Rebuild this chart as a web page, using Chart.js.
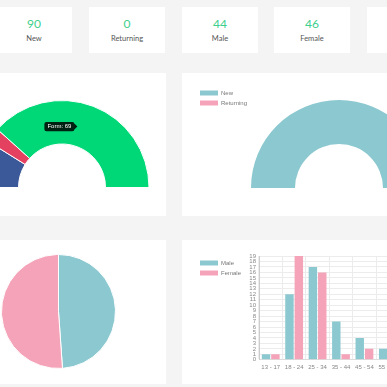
<!DOCTYPE html>
<html>
<head>
<meta charset="utf-8">
<script src="https://cdn.jsdelivr.net/npm/chart.js@4.4.1/dist/chart.umd.min.js"></script>
<style>
  html, body { margin: 0; padding: 0; }
  body { width: 387px; height: 387px; overflow: hidden; position: relative; background: #f4f4f4; font-family: Lato, "Liberation Sans", Arial, sans-serif; }
  .card { position: absolute; background: #fff; }
  .stat { top: 7px; width: 76px; height: 46px; text-align: center; }
  .stat .num { position: absolute; left: 0; right: 0; top: 10px; font-size: 12px; color: #3ecf8e; line-height: 14px; }
  .stat .lbl { position: absolute; left: 0; right: 0; top: 27px; font-size: 7.5px; color: #555; line-height: 10px; }
  canvas { position: absolute; }
</style>
</head>
<body>
<div class="card stat" style="left:-4px"><div class="num" id="s0"></div><div class="lbl">New</div></div>
<div class="card stat" style="left:89px"><div class="num" id="s1"></div><div class="lbl">Returning</div></div>
<div class="card stat" style="left:182px"><div class="num" id="s2"></div><div class="lbl">Male</div></div>
<div class="card stat" style="left:274px"><div class="num" id="s3"></div><div class="lbl">Female</div></div>
<div class="card stat" style="left:367px"><div class="num"></div><div class="lbl"></div></div>

<div class="card" style="left:-10px; top:73px; width:176px; height:143px"></div>
<div class="card" style="left:182px; top:73px; width:220px; height:143px"></div>
<div class="card" style="left:-10px; top:240px; width:176px; height:144px"></div>
<div class="card" style="left:182px; top:240px; width:220px; height:144px"></div>

<canvas id="sourceChart" width="176" height="88" style="left:-26px; top:100px"></canvas>
<canvas id="visitorChart" width="231" height="116" style="left:196px; top:86px"></canvas>
<canvas id="genderChart" width="115" height="115" style="left:1px; top:254px"></canvas>
<canvas id="ageChart" width="227" height="125" style="left:196px; top:250px"></canvas>

<script>
const sourceLabels = ["Facebook", "Instagram", "Form"];
const sourceValues = [16, 5, 69];
const sourceColors = ["#3b5998", "#e4405f", "#00d878"];

const visitorLabels = ["New", "Returning"];
const visitorValues = [90, 0];

const genderLabels = ["Male", "Female"];
const genderValues = [44, 46];

const ageLabels = ["13 - 17", "18 - 24", "25 - 34", "35 - 44", "45 - 54", "55 - 64", "65+"];
const maleByAge = [1, 12, 17, 7, 4, 2, 1];
const femaleByAge = [1, 19, 16, 1, 2, 4, 3];

const teal = "#8cc8d0";
const pink = "#f4a3b8";
const fontFamily = "'Liberation Sans', Arial, sans-serif";

Chart.defaults.font.family = fontFamily;
Chart.defaults.animation = false;
Chart.defaults.responsive = false;

document.getElementById("s0").innerText = visitorValues[0];
document.getElementById("s1").innerText = visitorValues[1];
document.getElementById("s2").innerText = genderValues[0];
document.getElementById("s3").innerText = genderValues[1];

// legend on the left with a fixed width so the chart area lands where it should
const legendWidth = {
    id: "legendWidth",
    beforeLayout(chart, args, opts) {
        const legend = chart.legend;
        if (!legend || legend._fixedWidth) return;
        const fit = legend.fit;
        legend.fit = function () {
            fit.call(this);
            this.width = opts.width;
        };
        legend._fixedWidth = true;
    }
};

const legendLabels = { boxWidth: 18, boxHeight: 5, padding: 4, color: "#777", font: { size: 6 } };

const sourceChart = new Chart(document.getElementById("sourceChart"), {
    type: "doughnut",
    data: {
        labels: sourceLabels,
        datasets: [{ data: sourceValues, backgroundColor: sourceColors, borderColor: "#fff", borderWidth: 1 }]
    },
    options: {
        rotation: -90,
        circumference: 180,
        cutout: "50%",
        plugins: {
            legend: { display: false },
            tooltip: {
                displayColors: false,
                xAlign: "right",
                yAlign: "center",
                caretSize: 3,
                caretPadding: 8,
                cornerRadius: 2,
                padding: { x: 3, y: 1 },
                backgroundColor: "rgba(0,0,0,0.85)",
                bodyFont: { size: 6 },
                callbacks: {
                    title: () => "",
                    label: ctx => ctx.label + ": " + ctx.parsed
                }
            }
        }
    }
});
sourceChart.tooltip.setActiveElements([{ datasetIndex: 0, index: 2 }], { x: 0, y: 0 });
sourceChart.update();

new Chart(document.getElementById("visitorChart"), {
    type: "doughnut",
    data: {
        labels: visitorLabels,
        datasets: [{ data: visitorValues, backgroundColor: [teal, pink], borderWidth: 0 }]
    },
    options: {
        rotation: -90,
        circumference: 180,
        cutout: "50%",
        plugins: {
            legend: { position: "left", align: "start", labels: legendLabels },
            legendWidth: { width: 55 },
            tooltip: { enabled: false }
        }
    },
    plugins: [legendWidth]
});

new Chart(document.getElementById("genderChart"), {
    type: "pie",
    data: {
        labels: genderLabels,
        datasets: [{ data: genderValues, backgroundColor: [teal, pink], borderColor: "#fff", borderWidth: 1 }]
    },
    options: {
        plugins: { legend: { display: false }, tooltip: { enabled: false } }
    }
});

new Chart(document.getElementById("ageChart"), {
    type: "bar",
    data: {
        labels: ageLabels,
        datasets: [
            { label: "Male", data: maleByAge, backgroundColor: teal },
            { label: "Female", data: femaleByAge, backgroundColor: pink }
        ]
    },
    options: {
        plugins: {
            legend: {
                position: "left",
                align: "start",
                labels: legendLabels,
                title: { display: true, text: "", padding: 0, font: { size: 5 } }
            },
            legendWidth: { width: 50 },
            tooltip: { enabled: false }
        },
        scales: {
            x: {
                grid: { color: "#ececec", drawTicks: false },
                border: { color: "#ddd" },
                ticks: { color: "#888", padding: 4, maxRotation: 0, minRotation: 0, autoSkip: false, font: { size: 6 } }
            },
            y: {
                beginAtZero: true,
                afterFit: scale => { scale.width = 13; },
                grid: { color: "#ececec", drawTicks: false },
                border: { color: "#ccc" },
                ticks: { stepSize: 1, autoSkip: false, color: "#888", padding: 3, font: { size: 6, lineHeight: 1 } }
            }
        }
    },
    plugins: [legendWidth]
});
</script>
</body>
</html>
